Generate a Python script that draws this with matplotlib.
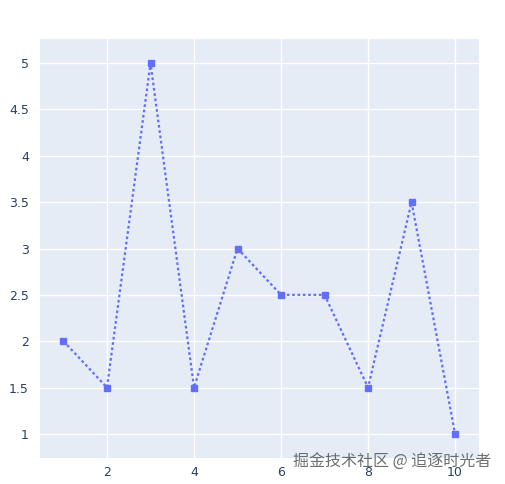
import matplotlib.pyplot as plt

x = [1, 2, 3, 4, 5, 6, 7, 8, 9, 10]
y = [2, 1.5, 5, 1.5, 3, 2.5, 2.5, 1.5, 3.5, 1]
xticks = [2, 4, 6, 8, 10]
yticks = [1, 1.5, 2, 2.5, 3, 3.5, 4, 4.5, 5]
ytick_labels = ['1', '1.5', '2', '2.5', '3', '3.5', '4', '4.5', '5']

fig = plt.figure(figsize=(5.05, 4.84), dpi=100)
ax = fig.add_axes([40 / 505, 26 / 484, 439 / 505, 419 / 484])
ax.set_facecolor('#E5ECF6')

ax.plot(x, y, color='#636EFA', linestyle=(0, (1.2, 1.2)), linewidth=1.6,
        marker='s', markersize=4.5, zorder=3)

ax.set_xlim(0.46, 10.55)
ax.set_ylim(0.74, 5.26)
ax.set_xticks(xticks)
ax.set_yticks(yticks)
ax.set_yticklabels(ytick_labels)
ax.grid(color='white', linewidth=1)
ax.set_axisbelow(True)
for s in ax.spines.values():
    s.set_visible(False)
ax.tick_params(length=0, labelsize=9, colors='#2a3f5f', pad=6)
ax.tick_params(axis='y', pad=8)

# watermark, sits over the last tick labels like in the original
fig.text(0.972, 0.045, '掘金技术社区 @ 追逐时光者', ha='right', va='center',
         fontsize=11.5, color='#555555', alpha=0.85,
         family=['Noto Sans CJK SC', 'DejaVu Sans'])

fig.savefig('out.png', dpi=100)
